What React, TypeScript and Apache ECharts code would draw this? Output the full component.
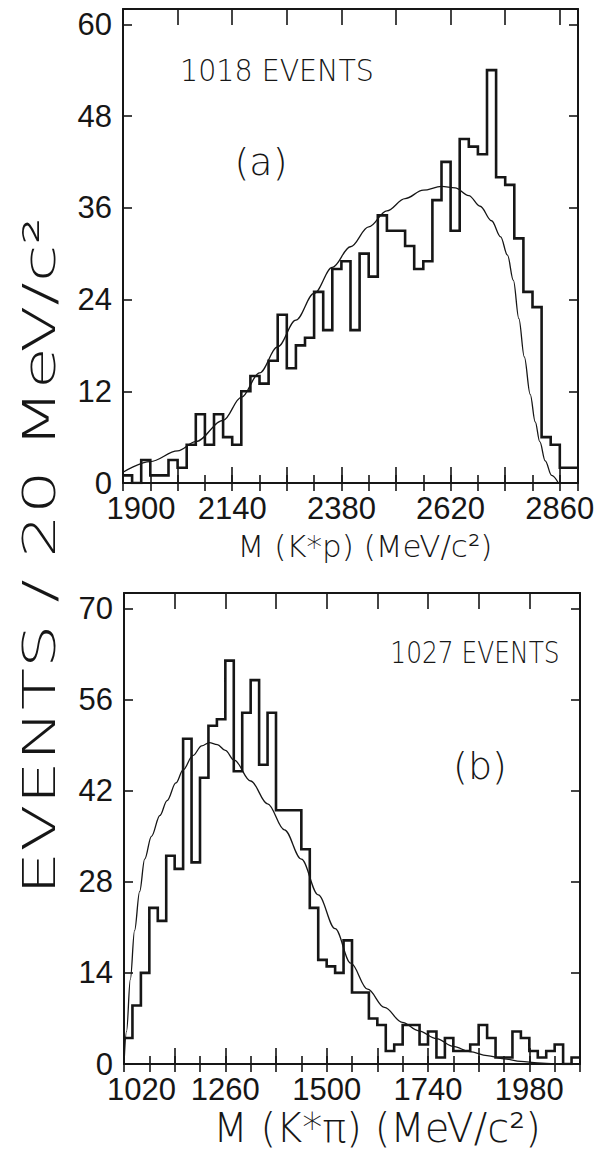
import React, { useEffect, useRef } from 'react';
import * as echarts from 'echarts';

// ---------- data ----------
const BIN_WIDTH = 20; // MeV per bin

// (a) M(K*p)
const TOP_FIRST_EDGE = 1900;
const topCounts = [1, 0, 3, 1, 1, 3, 2, 5, 9, 5, 9, 6, 5, 12, 14, 13, 16, 22, 15, 18, 19, 25, 20, 28, 29, 20, 30, 27, 35, 33, 33, 31, 28, 29, 37, 42, 33, 45, 44, 43, 54, 40, 39, 32, 25, 23, 6, 5, 2, 2];
const topCurveMass = [1900, 1960, 2020, 2060, 2120, 2160, 2200, 2240, 2280, 2320, 2360, 2400, 2440, 2480, 2520, 2560, 2600, 2630, 2660, 2685, 2710, 2730, 2745, 2758, 2770, 2782, 2795, 2806, 2816, 2828, 2842, 2857];
const topCurveValue = [1.4, 2.8, 4.2, 5.4, 8.2, 11.2, 14.4, 17.8, 21.3, 24.8, 28.2, 30.9, 33.5, 35.6, 37.2, 38.3, 38.8, 38.6, 37.6, 36.2, 34.3, 32.2, 29.8, 26.5, 21.5, 16.5, 11.6, 8.0, 5.4, 2.9, 1.0, 0];
const topXTickLabels = [1900, 2140, 2380, 2620, 2860];

// (b) M(K*pi)
const BOT_FIRST_EDGE = 1020;
const botCounts = [4, 9, 14, 24, 22, 32, 30, 50, 31, 44, 52, 53, 62, 45, 54, 59, 46, 54, 39, 39, 39, 33, 24, 16, 15, 14, 19, 11, 11, 7, 6, 2, 3, 6, 6, 3, 5, 1, 4, 2, 2, 3, 6, 4, 1, 1, 5, 4, 2, 1, 2, 3, 0, 1];
const botCurveMass = [1020, 1026, 1035, 1045, 1057, 1069, 1085, 1105, 1122, 1143, 1160, 1183, 1204, 1222, 1241, 1260, 1281, 1320, 1360, 1400, 1440, 1480, 1520, 1557, 1597, 1637, 1679, 1718, 1760, 1800, 1839, 1880, 1920, 1960, 2000, 2040, 2080, 2100];
const botCurveValue = [0, 5, 13, 20.5, 26.5, 31.5, 35, 38.2, 40.5, 43.2, 45.2, 47.4, 48.9, 49.4, 49.1, 48.2, 46.7, 43.5, 40, 36, 31.5, 26, 20.8, 15.5, 11.5, 8.7, 6.4, 5.1, 3.9, 2.7, 1.9, 1.3, 0.8, 0.4, 0.15, 0.05, 0, 0];
const botXTickLabels = [1020, 1260, 1500, 1740, 1980];

// ---------- style ----------
const INK = '#161616';
const TICK_FONT = "'Liberation Sans Narrow', 'Liberation Sans', Arial, sans-serif";
const TICK_SIZE = 31;
const TITLE_FONT = "'DejaVu Sans', 'Liberation Sans', sans-serif";

function stepPoints(first: number, counts: number[]) {
  const pts: number[][] = [];
  counts.forEach((c, i) => {
    pts.push([first + i * BIN_WIDTH, c]);
    pts.push([first + (i + 1) * BIN_WIDTH, c]);
  });
  return pts;
}

function zip(xs: number[], ys: number[]) {
  return xs.map((x, i) => [x, ys[i]]);
}

const axisLineStyle = { color: INK, width: 2 };
const tickLineStyle = { color: INK, width: 1.6 };

function xAxesFor(grid: number, min: number, max: number, labels: number[], firstPad: number) {
  const common = {
    gridIndex: grid,
    type: 'value',
    min,
    max,
    splitLine: { show: false },
    axisPointer: { show: false },
  };
  return [
    {
      ...common,
      position: 'bottom',
      interval: 120,
      axisLine: { show: true, onZero: false, lineStyle: axisLineStyle },
      axisTick: { show: true, inside: true, length: 16, lineStyle: tickLineStyle },
      axisLabel: {
        show: true,
        margin: 10,
        fontSize: TICK_SIZE,
        fontFamily: TICK_FONT,
        color: INK,
        formatter: (v: number) => {
          if (labels.indexOf(v) < 0) return '';
          return v === labels[0] ? `{first|${v}}` : String(v);
        },
        rich: {
          first: { padding: [0, 0, 0, firstPad], fontSize: TICK_SIZE, fontFamily: TICK_FONT, color: INK },
        },
      },
    },
    {
      ...common,
      position: 'bottom',
      interval: 60,
      axisLine: { show: false },
      axisTick: { show: true, inside: true, length: 8, lineStyle: tickLineStyle },
      axisLabel: { show: false },
    },
    {
      ...common,
      position: 'top',
      interval: 120,
      axisLine: { show: true, onZero: false, lineStyle: axisLineStyle },
      axisTick: { show: true, inside: true, length: 16, lineStyle: tickLineStyle },
      axisLabel: { show: false },
    },
    {
      ...common,
      position: 'top',
      interval: 60,
      axisLine: { show: false },
      axisTick: { show: true, inside: true, length: 8, lineStyle: tickLineStyle },
      axisLabel: { show: false },
    },
  ];
}

function yAxesFor(grid: number, max: number, step: number) {
  const common = {
    gridIndex: grid,
    type: 'value',
    min: 0,
    max,
    interval: step,
    splitLine: { show: false },
    axisPointer: { show: false },
  };
  return [
    {
      ...common,
      position: 'left',
      axisLine: { show: true, onZero: false, lineStyle: axisLineStyle },
      axisTick: { show: true, inside: true, length: 9, lineStyle: tickLineStyle },
      axisLabel: {
        show: true,
        margin: 11,
        fontSize: TICK_SIZE,
        fontFamily: TICK_FONT,
        color: INK,
        formatter: (v: number) => (v % step === 0 ? String(v) : ''),
      },
    },
    {
      ...common,
      position: 'right',
      axisLine: { show: true, onZero: false, lineStyle: axisLineStyle },
      axisTick: { show: true, inside: true, length: 9, lineStyle: tickLineStyle },
      axisLabel: { show: false },
    },
  ];
}

function histSeries(xi: number, yi: number, first: number, counts: number[]) {
  return {
    type: 'line',
    xAxisIndex: xi,
    yAxisIndex: yi,
    data: stepPoints(first, counts),
    symbol: 'none',
    showSymbol: false,
    silent: true,
    lineStyle: { color: INK, width: 2.6, join: 'miter' },
    z: 4,
  };
}

function curveSeries(xi: number, yi: number, xs: number[], ys: number[]) {
  return {
    type: 'line',
    xAxisIndex: xi,
    yAxisIndex: yi,
    data: zip(xs, ys),
    smooth: 0.35,
    smoothMonotone: 'x',
    symbol: 'none',
    showSymbol: false,
    silent: true,
    lineStyle: { color: INK, width: 1.3 },
    z: 3,
  };
}

function text(t: string, x: number, y: number, fontSize: number, extra: any = {}) {
  return {
    type: 'text',
    x,
    y,
    silent: true,
    ...extra,
    style: {
      text: t,
      fontSize,
      fontFamily: TITLE_FONT,
      fontWeight: 300,
      fill: INK,
      align: 'center',
      verticalAlign: 'middle',
    },
  };
}

export default function App() {
  const ref = useRef<HTMLDivElement>(null);
  useEffect(() => {
    if (!ref.current) return;
    const chart = echarts.init(ref.current, undefined, { renderer: 'svg' });
    chart.setOption({
      animation: false,
      backgroundColor: '#ffffff',
      grid: [
        { left: 123, top: 9, width: 455, height: 474 },
        { left: 124, top: 593, width: 456, height: 471 },
      ],
      xAxis: [
        ...xAxesFor(0, 1900, 2900, topXTickLabels, 36),
        ...xAxesFor(1, 1020, 2100, botXTickLabels, 35),
      ],
      yAxis: [...yAxesFor(0, 62, 12), ...yAxesFor(1, 72.4, 14)],
      series: [
        histSeries(0, 0, TOP_FIRST_EDGE, topCounts),
        curveSeries(0, 0, topCurveMass, topCurveValue),
        histSeries(4, 2, BOT_FIRST_EDGE, botCounts),
        curveSeries(4, 2, botCurveMass, botCurveValue),
      ],
      graphic: [
        text('1018 EVENTS', 277, 71, 30, { scaleX: 0.95 }),
        text('(a)', 261, 162, 38),
        text('1027 EVENTS', 475, 652, 30, { scaleX: 0.83 }),
        text('(b)', 480, 766, 38),
        text('M (K*p) (MeV/c²)', 365, 546, 31),
        text('M (K*π) (MeV/c²)', 377, 1128, 40),
        text('EVENTS / 20 MeV/c²', 40, 556, 44, { rotation: Math.PI / 2, scaleX: 1.56 }),
      ],
    });
    return () => chart.dispose();
  }, []);
  return (
    <div
      ref={ref}
      style={{ position: 'absolute', left: 0, top: 0, width: 607, height: 1159, background: '#fff' }}
    />
  );
}
